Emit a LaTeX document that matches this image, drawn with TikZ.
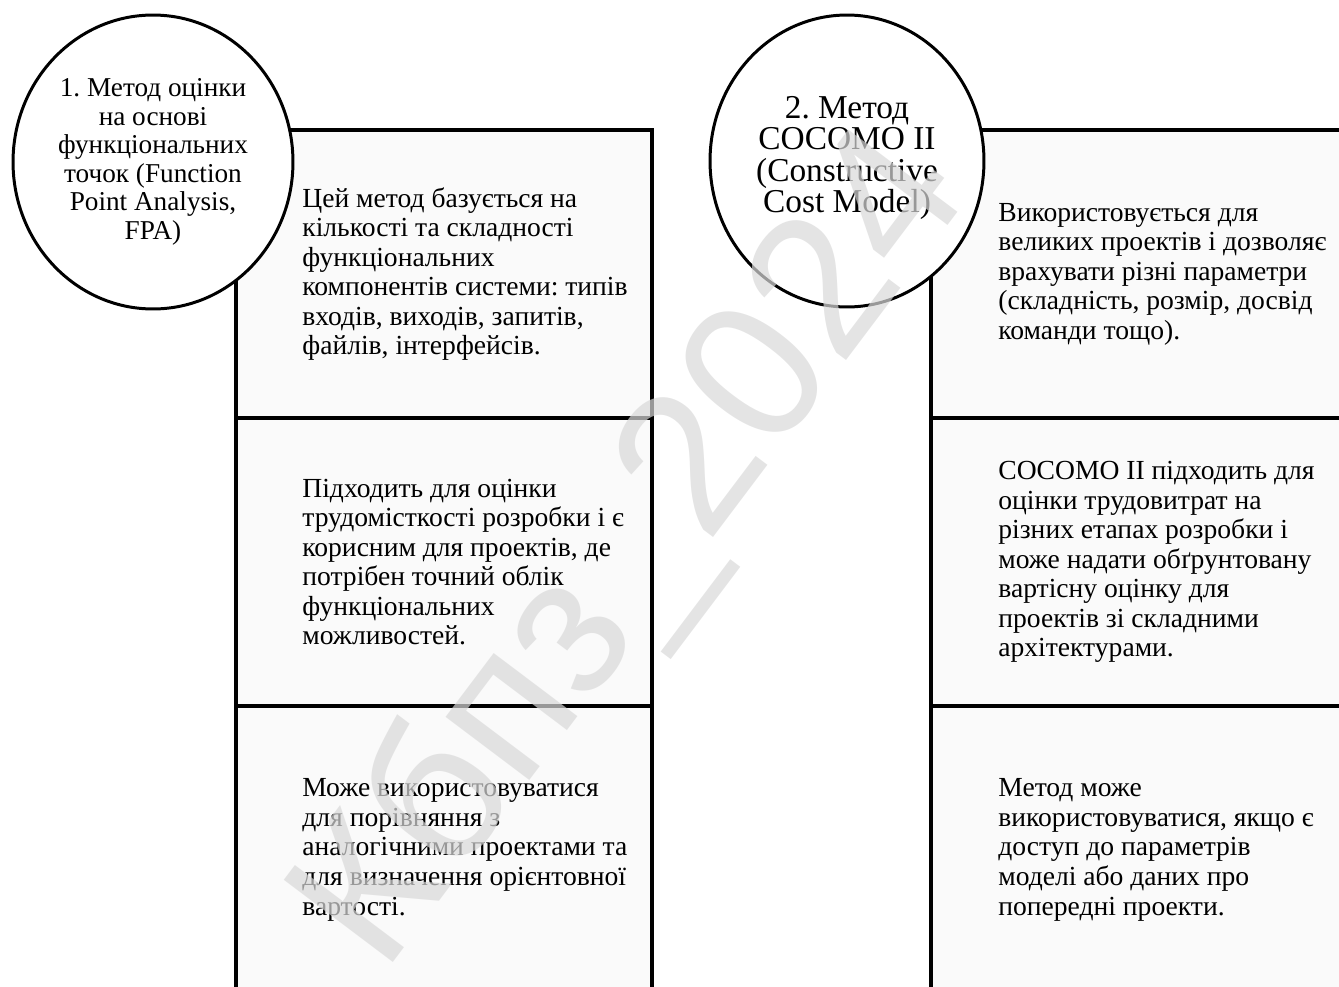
\documentclass[tikz,border=0pt]{standalone}
\usepackage{fontspec}
\setmainfont{Liberation Serif}
\newfontfamily\wmfont{Liberation Sans}
\usetikzlibrary{positioning,shapes.geometric}
\frenchspacing
\tikzset{
  stage/.style={rectangle, draw, line width=2.2pt, fill=black!2, outer sep=0pt, inner sep=0pt, minimum width=8.32cm, minimum height=5.76cm},
  stagetext/.style={anchor=west, inner sep=0pt, align=left, font=\rmfamily\fontsize{15.7}{16.8}\selectfont},
  method/.style={ellipse, draw, line width=1.7pt, fill=white, inner sep=0pt, align=center},
  wmark/.style={text=black!15, opacity=0.7, font=\wmfont\fontsize{113}{113}\selectfont, inner sep=0pt}
}

\begin{document}
\begin{tikzpicture}[x=0.02cm, y=-0.02cm]
    \useasboundingbox (0,0) rectangle (1339,987);
    \node[stage] (fpaA) at (444,274) {};
    \node[stage, below=0pt of fpaA] (fpaB) {};
    \node[stage, below=0pt of fpaB] (fpaC) {};
    \node[stage] (cocA) at (1139,274) {};
    \node[stage, below=0pt of cocA] (cocB) {};
    \node[stage, below=0pt of cocB] (cocC) {};
    \node[stagetext] (fpaAtext) at ([xshift=1.32cm]fpaA.west) {Цей метод базується на\\ кількості та складності\\ функціональних\\ компонентів системи: типів\\ входів, виходів, запитів,\\ файлів, інтерфейсів.};
    \node[stagetext] (fpaBtext) at ([xshift=1.32cm]fpaB.west) {Підходить для оцінки\\ трудомісткості розробки і є\\ корисним для проектів, де\\ потрібен точний облік\\ функціональних\\ можливостей.};
    \node[stagetext] (fpaCtext) at ([xshift=1.32cm]fpaC.west) {Може використовуватися\\ для порівняння з\\ аналогічними проектами та\\ для визначення орієнтовної\\ вартості.};
    \node[stagetext] (cocAtext) at ([xshift=1.34cm]cocA.west) {Використовується для\\ великих проектів і дозволяє\\ врахувати різні параметри\\ (складність, розмір, досвід\\ команди тощо).};
    \node[stagetext] (cocBtext) at ([xshift=1.34cm]cocB.west) {COCOMO II підходить для\\ оцінки трудовитрат на\\ різних етапах розробки і\\ може надати обґрунтовану\\ вартісну оцінку для\\ проектів зі складними\\ архітектурами.};
    \node[stagetext] (cocCtext) at ([xshift=1.34cm]cocC.west) {Метод може\\ використовуватися, якщо є\\ доступ до параметрів\\ моделі або даних про\\ попередні проекти.};
    \node[method, minimum width=5.6cm, minimum height=5.88cm, font=\rmfamily\fontsize{15.5}{16.2}\selectfont] (fpa) at (153,162) {1. Метод оцінки\\ на основі\\ функціональних\\ точок (Function\\ Point Analysis,\\ FPA)};
    \node[method, minimum width=5.48cm, minimum height=5.84cm, font=\rmfamily\fontsize{19}{17.8}\selectfont] (cocomo) at (847,161) {2. Метод\\ COCOMO II\\ (Constructive\\ Cost Model)\\[-0.55cm]\strut};
    \node[wmark, rotate=53] (wm) at (636,552) {Кбпз\_2024};
\end{tikzpicture}
\end{document}
